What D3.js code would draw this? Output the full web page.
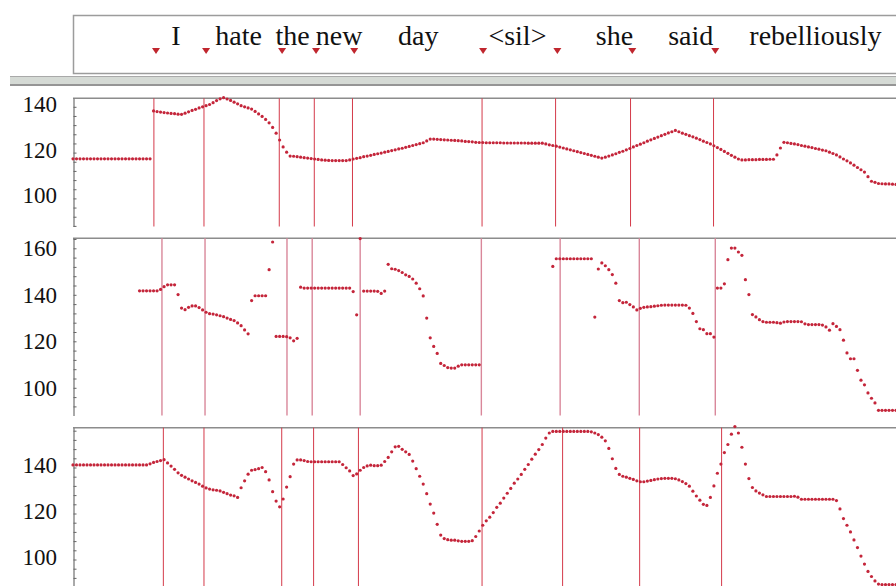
<!DOCTYPE html>
<html>
<head>
<meta charset="utf-8">
<script src="https://cdn.jsdelivr.net/npm/d3@7"></script>
<style>
  html, body { margin: 0; padding: 0; background: #fff; }
  svg { display: block; }
</style>
</head>
<body>
<svg id="chart" width="896" height="586"></svg>
<script>
// word labels and their centres (in pitch frames)
const words = ['I', 'hate', 'the', 'new', 'day', '<sil>', 'she', 'said', 'rebelliously'];
const wordCentres = [29.4, 47.3, 62.7, 76, 98.6, 126.9, 154.6, 176.4, 212];
const markers = [23.7, 38, 59.7, 69.4, 80.3, 117.1, 138.3, 159.7, 183.4];

// segment boundaries for each contour (frames)
const bounds1 = [23.1, 37.4, 58.9, 68.9, 79.8, 116.8, 137.8, 159.2, 182.9];
const bounds2 = [25.4, 37.7, 61.1, 68.3, 82.0, 116.6, 139.1, 161.7, 183.4];
const bounds3 = [25.8, 37.4, 59.6, 68.7, 81.5, 116.8, 139.8, 161.8, 185.2];

const labels1 = [100, 120, 140];
const labels2 = [100, 120, 140, 160];
const labels3 = [100, 120, 140];

// F0 values, one per frame (null = unvoiced)
const pitch1 = [
  117.3, 117.3, 117.3, 117.3, 117.3, 117.3, 117.3, 117.3, 117.3, 117.3,
  117.3, 117.3, 117.3, 117.3, 117.3, 117.3, 117.3, 117.3, 117.3, 117.3,
  117.3, 117.3, 117.3, 138.2, 137.9, 137.7, 137.5, 137.3, 137.1, 137.0,
  136.8, 136.7, 137.2, 137.8, 138.4, 138.9, 139.5, 140.0, 140.5, 141.0,
  141.8, 142.7, 143.5, 144.0, 143.4, 142.8, 142.0, 141.3, 140.5, 140.0,
  139.5, 139.0, 138.0, 136.9, 135.8, 134.5, 133.0, 131.0, 128.5, 125.5,
  122.5, 120.2, 118.5, 118.4, 118.2, 118.0, 117.8, 117.6, 117.4, 117.2,
  117.0, 116.8, 116.7, 116.6, 116.5, 116.5, 116.5, 116.5, 116.5, 116.8,
  117.2, 117.5, 117.8, 118.2, 118.5, 118.8, 119.2, 119.5, 119.8, 120.2,
  120.5, 120.9, 121.2, 121.6, 121.9, 122.3, 122.7, 123.1, 123.5, 123.9,
  124.3, 125.1, 125.9, 125.9, 125.8, 125.7, 125.6, 125.5, 125.4, 125.3,
  125.2, 125.1, 124.9, 124.8, 124.7, 124.5, 124.4, 124.4, 124.3, 124.3,
  124.3, 124.3, 124.3, 124.2, 124.2, 124.2, 124.2, 124.2, 124.2, 124.2,
  124.1, 124.1, 124.1, 124.1, 124.1, 123.8, 123.4, 123.1, 122.8, 122.4,
  122.0, 121.6, 121.2, 120.8, 120.4, 120.0, 119.6, 119.2, 118.8, 118.4,
  118.0, 117.6, 118.0, 118.5, 119.0, 119.5, 120.1, 120.6, 121.2, 121.8,
  122.5, 123.1, 123.7, 124.3, 125.0, 125.6, 126.2, 126.8, 127.4, 128.0,
  128.6, 129.1, 129.7, 129.1, 128.5, 128.0, 127.4, 126.9, 126.3, 125.7,
  125.0, 124.4, 123.8, 123.0, 122.2, 121.4, 120.5, 119.7, 118.8, 118.0,
  117.2, 116.8, 116.8, 116.9, 116.9, 116.9, 117.0, 117.0, 117.0, 117.1,
  117.1, 119.0, 122.0, 124.5, 124.3, 124.0, 123.8, 123.5, 123.1, 122.8,
  122.5, 122.2, 121.8, 121.5, 121.1, 120.8, 120.2, 119.6, 119.0, 118.1,
  117.2, 116.4, 115.5, 114.5, 113.5, 112.5, 111.5, 109.5, 107.5, 107.0,
  106.5, 106.4, 106.3, 106.3, 106.2, 106.1
];

const pitch2 = [
  null, null, null, null, null, null, null, null, null, null,
  null, null, null, null, null, null, null, null, null, 141.7,
  141.7, 141.7, 141.7, 141.7, 141.7, 142.3, 143.5, 144.3, 144.3, 144.3,
  140.1, 134.3, 133.6, 134.6, 135.2, 135.2, 134.5, 133.5, 132.5, 131.9,
  131.7, 131.4, 131.0, 130.6, 130.0, 129.4, 128.9, 127.9, 126.7, 124.9,
  123.2, 137.5, 139.6, 139.6, 139.6, 139.6, 150.8, 162.7, 122.1, 122.1,
  122.1, 122.0, 121.5, 120.2, 121.3, 143.3, 142.9, 142.9, 142.9, 142.9,
  142.9, 142.9, 142.9, 142.9, 142.9, 142.9, 142.9, 142.9, 142.9, 142.9,
  141.4, 131.4, 164.2, 141.6, 141.6, 141.6, 141.6, 141.5, 140.6, 141.6,
  153.1, 151.2, 151.0, 150.4, 149.6, 148.6, 147.9, 146.8, 145.0, 142.6,
  139.5, 130.0, 121.5, 117.8, 114.8, 110.5, 109.6, 108.7, 108.5, 108.5,
  109.3, 109.9, 109.9, 109.9, 109.9, 109.9, 109.9, null, null, null,
  null, null, null, null, null, null, null, null, null, null,
  null, null, null, null, null, null, null, 152.2, 155.5, 155.5,
  155.5, 155.5, 155.5, 155.5, 155.5, 155.5, 155.5, 155.5, 155.5, 130.4,
  151.1, 153.7, 152.5, 150.8, 148.7, 145.0, 137.5, 136.6, 136.8, 135.8,
  134.8, 133.5, 134.2, 134.6, 134.8, 134.9, 135.1, 135.3, 135.5, 135.6,
  135.6, 135.6, 135.6, 135.6, 135.6, 135.5, 134.3, 132.0, 128.5, 125.4,
  125.0, 123.3, 123.3, 121.8, 142.9, 142.9, 144.7, 155.1, 160.1, 160.1,
  158.4, 157.0, 146.5, 140.1, 131.5, 130.5, 129.3, 128.5, 128.2, 128.2,
  128.2, 128.0, 127.8, 128.3, 128.5, 128.5, 128.5, 128.5, 128.4, 127.5,
  127.2, 127.2, 127.2, 127.2, 127.0, 126.2, 124.8, 127.6, 126.4, 125.0,
  120.5, 115.0, 112.5, 112.5, 107.5, 103.3, 101.3, 97.8, 95.5, 93.5,
  90.3, 90.3, 90.3, 90.3, 90.3, 90.3
];

const pitch3 = [
  141.1, 141.1, 141.1, 141.1, 141.1, 141.1, 141.1, 141.1, 141.1, 141.1,
  141.1, 141.1, 141.1, 141.1, 141.1, 141.1, 141.1, 141.1, 141.1, 141.1,
  141.1, 141.1, 141.6, 142.2, 142.6, 143.0, 143.4, 142.0, 140.6, 139.2,
  137.7, 136.6, 135.8, 135.0, 134.2, 133.5, 132.8, 131.9, 131.1, 130.6,
  130.3, 130.1, 129.8, 129.2, 128.6, 128.0, 127.7, 127.0, 131.2, 134.2,
  137.1, 138.8, 139.1, 139.5, 140.0, 138.2, 134.6, 129.5, 125.4, 122.9,
  126.3, 131.5, 136.0, 141.5, 143.3, 143.3, 143.0, 142.6, 142.5, 142.5,
  142.5, 142.5, 142.5, 142.5, 142.5, 142.5, 142.5, 141.3, 139.9, 138.5,
  136.5, 137.2, 138.8, 140.0, 140.7, 141.0, 140.8, 140.8, 141.0, 142.6,
  144.4, 146.8, 149.0, 149.2, 147.9, 146.8, 145.7, 142.8, 139.5, 136.2,
  132.8, 128.6, 124.1, 120.2, 115.3, 110.6, 109.1, 108.6, 108.4, 108.4,
  108.1, 107.9, 107.9, 107.9, 108.2, 110.0, 112.4, 114.9, 116.8, 118.4,
  120.4, 122.7, 124.5, 126.7, 128.8, 130.9, 133.2, 135.0, 137.0, 139.2,
  141.3, 143.6, 145.8, 147.8, 150.0, 152.8, 155.0, 155.7, 155.7, 155.7,
  155.7, 155.7, 155.7, 155.7, 155.7, 155.7, 155.7, 155.7, 155.5, 155.0,
  154.3, 153.2, 151.6, 148.3, 143.8, 139.6, 137.0, 136.2, 135.8, 135.3,
  134.8, 134.2, 133.8, 133.8, 134.1, 134.4, 134.7, 135.0, 135.2, 135.3,
  135.3, 135.3, 135.1, 134.6, 133.9, 133.0, 131.9, 129.7, 127.6, 125.8,
  124.0, 123.5, 127.0, 132.0, 137.5, 141.5, 146.5, 150.0, 154.5, 157.8,
  155.0, 148.8, 141.5, 135.2, 131.3, 129.8, 128.9, 128.1, 127.4, 127.4,
  127.4, 127.4, 127.4, 127.4, 127.4, 127.4, 127.5, 127.1, 126.2, 126.2,
  126.2, 126.2, 126.2, 126.2, 126.2, 126.2, 126.2, 126.2, 125.6, 122.0,
  117.8, 114.9, 112.0, 108.5, 105.2, 101.5, 98.0, 94.8, 92.6, 90.7,
  89.3, 89.1, 89.1, 89.1, 89.1, 89.1
];

const W = 896, H = 586;
const serif = "'Liberation Serif', 'DejaVu Serif', serif";
const svg = d3.select('#chart');

const x = d3.scaleLinear().domain([0, 235]).range([73, 896]);

const dotColor = '#c4253a';

// --- word tier ---
svg.append('rect')
    .attr('x', 73.5).attr('y', 15.5)
    .attr('width', 840).attr('height', 58)
    .attr('fill', '#fff')
    .attr('stroke', '#9c9c9c')
    .attr('stroke-width', 1.5);

svg.selectAll('.word')
    .data(words)
    .enter()
    .append('text')
    .attr('class', 'word')
    .attr('x', (d, i) => x(wordCentres[i]))
    .attr('y', 45)
    .attr('text-anchor', 'middle')
    .attr('font-family', serif)
    .attr('font-size', 28)
    .attr('fill', '#111')
    .text(d => d);

svg.selectAll('.marker')
    .data(markers)
    .enter()
    .append('path')
    .attr('class', 'marker')
    .attr('d', d => 'M' + (x(d) - 4) + ',48 L' + (x(d) + 4) + ',48 L' + x(d) + ',54 Z')
    .attr('fill', '#c0262e');

// grey splitter bar
svg.append('rect')
    .attr('x', 10).attr('y', 76)
    .attr('width', W - 10).attr('height', 10)
    .attr('fill', '#d5dad5');
svg.append('line')
    .attr('x1', 10).attr('x2', W).attr('y1', 76.5).attr('y2', 76.5)
    .attr('stroke', '#a9a9a9');
svg.append('line')
    .attr('x1', 10).attr('x2', W).attr('y1', 85).attr('y2', 85)
    .attr('stroke', '#959595').attr('stroke-width', 2);

// --- pitch panels ---
const panels = [
    { data: pitch1, bounds: bounds1, labels: labels1, top: 98.3, bottom: 226.5,
      anchor: [100, 198.4, 140, 106.8], shift: -3, line: '#d43a4a', lw: 1 },
    { data: pitch2, bounds: bounds2, labels: labels2, top: 238.3, bottom: 415.5,
      anchor: [100, 387.8, 160, 248.3], shift: 0, line: '#d9879a', lw: 1.4 },
    { data: pitch3, bounds: bounds3, labels: labels3, top: 427.7, bottom: 600,
      anchor: [100, 559.5, 140, 467.5], shift: -2.5, line: '#d43a4a', lw: 1 }
];

panels.forEach(function(p, k) {
    const a = p.anchor;
    const y0 = d3.scaleLinear().domain([a[0], a[2]]).range([a[1], a[3]]);
    const y = d3.scaleLinear()
        .domain([y0.invert(p.bottom), y0.invert(p.top)])
        .range([p.bottom, p.top]);

    const g = svg.append('g').attr('class', 'panel panel' + k);

    // top border
    g.append('line')
        .attr('x1', 73).attr('x2', W)
        .attr('y1', p.top).attr('y2', p.top)
        .attr('stroke', '#8c8c8c').attr('stroke-width', 1.5);

    // left axis with small ticks every 4 Hz
    const lo = Math.ceil(y.domain()[0] / 4) * 4;
    const hi = Math.floor(y.domain()[1] / 4) * 4;
    const yAxis = d3.axisRight(y)
        .tickValues(d3.range(lo, hi + 1, 4))
        .tickSize(3)
        .tickSizeOuter(0)
        .tickFormat('');
    const gA = g.append('g')
        .attr('transform', 'translate(73.5,0)')
        .call(yAxis);
    gA.select('.domain').attr('stroke', '#555');
    gA.selectAll('.tick line').attr('stroke', '#666');

    g.selectAll('.ylab')
        .data(p.labels)
        .enter()
        .append('text')
        .attr('class', 'ylab')
        .attr('x', 57)
        .attr('y', d => y(d) + p.shift)
        .attr('dy', '0.35em')
        .attr('text-anchor', 'end')
        .attr('font-family', serif)
        .attr('font-size', 23)
        .attr('fill', '#111')
        .text(d => d);

    // segment boundaries
    g.selectAll('.bound')
        .data(p.bounds)
        .enter()
        .append('line')
        .attr('class', 'bound')
        .attr('x1', d => x(d)).attr('x2', d => x(d))
        .attr('y1', p.top).attr('y2', p.bottom)
        .attr('stroke', p.line)
        .attr('stroke-width', p.lw);

    // F0 points
    const pts = p.data.map((v, i) => ({ i: i, v: v })).filter(d => d.v !== null);
    g.selectAll('.pt')
        .data(pts)
        .enter()
        .append('circle')
        .attr('class', 'pt')
        .attr('cx', d => x(d.i))
        .attr('cy', d => y(d.v))
        .attr('r', 1.6)
        .attr('fill', dotColor);
});
</script>
</body>
</html>
